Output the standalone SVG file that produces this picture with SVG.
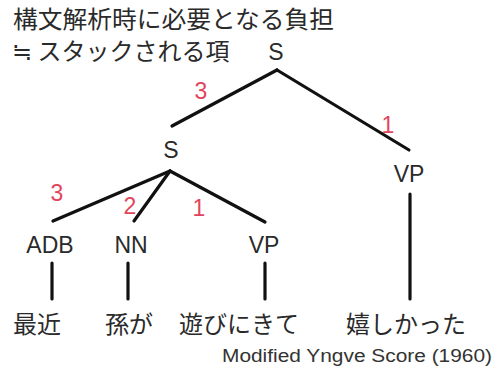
<svg xmlns="http://www.w3.org/2000/svg" width="494" height="382" viewBox="0 0 494 382">
<style>
.t{font-family:"Noto Sans CJK JP","Liberation Sans",sans-serif;font-size:24px;fill:#2a2a2a}
.n{font-family:"Liberation Sans","Noto Sans",sans-serif;font-size:23px;fill:#2a2a2a;text-anchor:middle}
.r{font-family:"Liberation Sans","Noto Sans",sans-serif;font-size:23px;fill:#e2445c;text-anchor:middle}
.e{fill:none;stroke:#111;stroke-width:3.2;stroke-linecap:round}
.c{font-family:"Liberation Sans","Noto Sans",sans-serif;font-size:18px;fill:#333}
</style>
<rect width="494" height="382" fill="#fff"/>
<g id="title">
<text class="t" x="13" y="28" textLength="321" lengthAdjust="spacingAndGlyphs">構文解析時に必要となる負担</text>
<text class="t" x="12" y="60">≒ スタックされる項</text>
</g>
<g id="connectors">
<line class="e" x1="277" y1="70" x2="172" y2="126"/>
<line class="e" x1="277" y1="70" x2="409" y2="150"/>
<line class="e" x1="410" y1="194" x2="410" y2="299"/>
<line class="e" x1="170" y1="171" x2="53" y2="221"/>
<line class="e" x1="170" y1="171" x2="134" y2="221"/>
<line class="e" x1="170" y1="171" x2="265" y2="222"/>
<line class="e" x1="52" y1="263" x2="52" y2="299"/>
<line class="e" x1="128" y1="263" x2="128" y2="299"/>
<line class="e" x1="265" y1="263" x2="265" y2="299"/>
</g>
<g id="weights">
<text class="r" x="201" y="99">3</text>
<text class="r" x="388" y="133">1</text>
<text class="r" x="57" y="201">3</text>
<text class="r" x="130" y="214">2</text>
<text class="r" x="199" y="216">1</text>
</g>
<g id="node-S-root"><text class="n" x="276" y="60">S</text></g>
<g id="node-S"><text class="n" x="171" y="158">S</text></g>
<g id="node-VP-right"><text class="n" x="409" y="182">VP</text></g>
<g id="node-ADB"><text class="n" x="50" y="253">ADB</text></g>
<g id="node-NN"><text class="n" x="131" y="253">NN</text></g>
<g id="node-VP"><text class="n" x="264" y="253">VP</text></g>
<g id="word-1"><text class="t" x="13" y="333">最近</text></g>
<g id="word-2"><text class="t" x="105" y="333">孫が</text></g>
<g id="word-3"><text class="t" x="179" y="333">遊びにきて</text></g>
<g id="word-4"><text class="t" x="346" y="333">嬉しかった</text></g>
<g id="caption"><text class="c" x="222" y="362" textLength="270" lengthAdjust="spacingAndGlyphs">Modified Yngve Score (1960)</text></g>
</svg>
